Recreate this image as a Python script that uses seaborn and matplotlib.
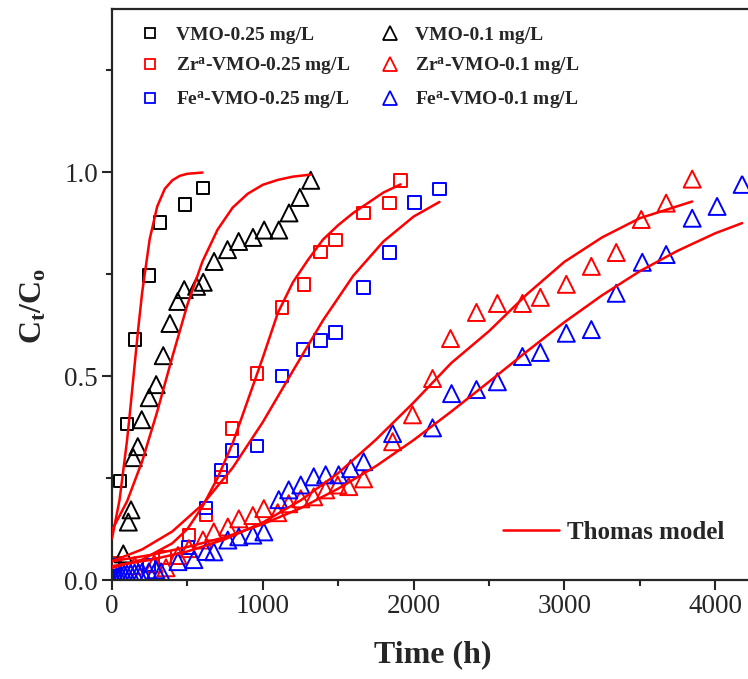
import matplotlib
matplotlib.use("Agg")
import matplotlib.pyplot as plt
from matplotlib.lines import Line2D
from matplotlib.ticker import MultipleLocator
import seaborn as sns

# measured breakthrough points (time in h, Ct/Co)
vmo25_t = [53, 99, 152, 245, 318, 483, 603]
vmo25_y = [0.243, 0.383, 0.59, 0.747, 0.877, 0.921, 0.961]

vmo10_t = [75, 108, 126, 141, 171, 197, 247, 293, 340, 384, 436, 479, 561, 605,
           677, 766, 840, 935, 1009, 1106, 1174, 1246, 1318]
vmo10_y = [0.064, 0.142, 0.172, 0.30, 0.327, 0.393, 0.447, 0.479, 0.55, 0.629, 0.683,
           0.712, 0.72, 0.73, 0.781, 0.81, 0.83, 0.84, 0.858, 0.858, 0.90, 0.938, 0.98]

zr25_t = [20, 350, 509, 623, 722, 795, 960, 1126, 1272, 1384, 1483, 1669, 1841, 1914]
zr25_y = [0.04, 0.055, 0.11, 0.16, 0.253, 0.371, 0.506, 0.668, 0.725, 0.804, 0.833,
          0.90, 0.924, 0.98]

fe25_t = [8, 245, 503, 623, 722, 795, 960, 1126, 1265, 1384, 1483, 1669, 1841, 2007, 2172]
fe25_y = [0.036, 0.037, 0.08, 0.177, 0.27, 0.317, 0.329, 0.50, 0.565, 0.587, 0.607,
          0.717, 0.803, 0.926, 0.958]

zr10_t = [150, 280, 358, 437, 510, 603, 675, 768, 841, 934, 1007, 1099, 1172, 1252,
          1338, 1417, 1497, 1570, 1669, 1861, 1993, 2126, 2245, 2417, 2556, 2722, 2841,
          3013, 3179, 3344, 3510, 3675, 3848]
zr10_y = [0.035, 0.04, 0.03, 0.06, 0.077, 0.098, 0.118, 0.13, 0.15, 0.158, 0.175, 0.165,
          0.187, 0.199, 0.204, 0.221, 0.233, 0.229, 0.248, 0.339, 0.405, 0.494, 0.592,
          0.656, 0.678, 0.678, 0.693, 0.725, 0.769, 0.803, 0.884, 0.924, 0.983]

fe10_t = [0, 15, 30, 45, 60, 80, 100, 125, 150, 175, 200, 245, 290, 325,
          437, 543, 623, 675, 768, 841, 934, 1007, 1106, 1172, 1252, 1338, 1417, 1503,
          1583, 1669, 1861, 2126, 2252, 2417, 2556, 2722, 2841, 3013, 3179, 3344, 3517,
          3675, 3848, 4013, 4179]
fe10_y = [0.0, 0.005, 0.008, 0.01, 0.012, 0.014, 0.015, 0.016, 0.017, 0.018, 0.02, 0.02,
          0.025, 0.02, 0.045, 0.05, 0.07, 0.069, 0.098, 0.106, 0.11, 0.118, 0.197, 0.221,
          0.233, 0.253, 0.258, 0.258, 0.273, 0.29, 0.359, 0.373, 0.457, 0.467, 0.486,
          0.548, 0.558, 0.605, 0.614, 0.703, 0.779, 0.798, 0.887, 0.916, 0.97]

# Thomas model curves
th_vmo25_t = [0, 50, 100, 125, 150, 175, 200, 250, 300, 350, 400, 450, 500, 600]
th_vmo25_y = [0.102, 0.196, 0.343, 0.433, 0.527, 0.620, 0.705, 0.836, 0.916, 0.959,
              0.980, 0.991, 0.996, 0.999]

th_vmo10_t = [0, 100, 200, 300, 400, 500, 600, 700, 800, 900, 1000, 1100, 1200, 1318]
th_vmo10_y = [0.122, 0.193, 0.291, 0.413, 0.547, 0.675, 0.781, 0.859, 0.913, 0.947,
              0.969, 0.981, 0.989, 0.994]

th_zr25_t = [0, 200, 400, 500, 600, 700, 800, 900, 1000, 1100, 1200, 1300, 1400, 1500,
             1600, 1700, 1800, 1914]
th_zr25_y = [0.03, 0.05, 0.09, 0.125, 0.18, 0.25, 0.335, 0.44, 0.545, 0.655, 0.73, 0.785,
             0.835, 0.87, 0.90, 0.925, 0.95, 0.97]

th_fe25_t = [0, 200, 400, 600, 800, 1000, 1200, 1400, 1600, 1800, 2000, 2172]
th_fe25_y = [0.046, 0.075, 0.119, 0.185, 0.275, 0.387, 0.513, 0.637, 0.746, 0.830,
             0.891, 0.927]

th_zr10_t = [0, 250, 500, 750, 1000, 1250, 1500, 1750, 2000, 2250, 2500, 2750, 3000,
             3250, 3500, 3848]
th_zr10_y = [0.034, 0.049, 0.070, 0.10, 0.141, 0.195, 0.262, 0.344, 0.435, 0.532, 0.61,
             0.70, 0.78, 0.84, 0.887, 0.928]

th_fe10_t = [0, 250, 500, 750, 1000, 1250, 1500, 1750, 2000, 2250, 2500, 2750, 3000,
             3250, 3500, 3750, 4000, 4179]
th_fe10_y = [0.046, 0.061, 0.081, 0.105, 0.137, 0.176, 0.224, 0.279, 0.343, 0.413, 0.486,
             0.56, 0.632, 0.698, 0.757, 0.807, 0.85, 0.875]

sns.set_style("ticks")
plt.rcParams["font.family"] = ["Liberation Serif", "DejaVu Serif"]
plt.rcParams["mathtext.fontset"] = "custom"
plt.rcParams["mathtext.rm"] = "Liberation Serif:bold"
plt.rcParams["mathtext.bf"] = "Liberation Serif:bold"
plt.rcParams["mathtext.it"] = "Liberation Serif:bold"

fig = plt.figure(figsize=(7.48, 6.79), dpi=100)
ax = fig.add_axes([112 / 748, 1 - 580 / 679, 1 - 112 / 748, 571 / 679])

for t, y in [(th_vmo25_t, th_vmo25_y), (th_vmo10_t, th_vmo10_y), (th_zr25_t, th_zr25_y),
             (th_fe25_t, th_fe25_y), (th_zr10_t, th_zr10_y), (th_fe10_t, th_fe10_y)]:
    sns.lineplot(x=t, y=y, ax=ax, color="red", lw=1.8, sort=False, estimator=None, zorder=3)

sq, tri = 80, 150
series = [
    (vmo25_t, vmo25_y, "s", sq, "black"),
    (zr25_t, zr25_y, "s", sq, "red"),
    (fe25_t, fe25_y, "s", sq, "blue"),
    (vmo10_t, vmo10_y, "^", tri, "black"),
    (zr10_t, zr10_y, "^", tri, "red"),
    (fe10_t, fe10_y, "^", tri, "blue"),
]
for t, y, m, s, c in series:
    sns.scatterplot(x=t, y=y, ax=ax, marker=m, s=s, facecolor="none", edgecolor=c,
                    color=c, linewidth=1.4, zorder=2)

ax.set_xlim(0, 4218)
ax.set_ylim(0, 1.4)
ax.xaxis.set_major_locator(MultipleLocator(1000))
ax.xaxis.set_minor_locator(MultipleLocator(500))
ax.yaxis.set_major_locator(MultipleLocator(0.5))
ax.yaxis.set_minor_locator(MultipleLocator(0.25))
ax.yaxis.set_major_formatter(matplotlib.ticker.FormatStrFormatter("%.1f"))
ax.tick_params(which="major", direction="out", length=7, width=1.5, labelsize=19.5, pad=3)
ax.tick_params(which="minor", direction="out", length=4, width=1.5)
for side in ["left", "bottom", "top"]:
    ax.spines[side].set_linewidth(1.6)
ax.spines["right"].set_visible(False)

ax.set_xlabel("Time (h)", fontsize=23, fontweight="bold")
ax.xaxis.set_label_coords(0.505, -0.105)
ax.set_ylabel(r"C$_\mathbf{t}$/C$_\mathbf{o}$", fontsize=23, fontweight="bold")
ax.yaxis.set_label_coords(-0.10, 0.48)

labels = ["VMO-0.25 mg/L", r"Zr$^\mathbf{a}$-VMO-0.25 mg/L", r"Fe$^\mathbf{a}$-VMO-0.25 mg/L",
          "VMO-0.1 mg/L", r"Zr$^\mathbf{a}$-VMO-0.1 mg/L", r"Fe$^\mathbf{a}$-VMO-0.1 mg/L"]
handles = [Line2D([], [], ls="none", marker=m, markersize=(7.5 if m == "s" else 10.5),
                  markerfacecolor="none", markeredgecolor=c, markeredgewidth=1.3)
           for _, _, m, _, c in series]
leg = ax.legend(handles, labels, ncol=2, loc="upper left", bbox_to_anchor=(0.045, 0.97),
                frameon=False, prop={"weight": "bold", "size": 14}, handlelength=1.0,
                handletextpad=0.8, columnspacing=1.55, labelspacing=0.62, borderpad=0,
                borderaxespad=0)
ax.add_artist(leg)

th_handle = [Line2D([], [], color="red", lw=1.8)]
ax.legend(th_handle, ["Thomas model"], loc="center left", bbox_to_anchor=(0.615, 0.083),
          frameon=False, prop={"weight": "bold", "size": 18}, handlelength=2.25,
          handletextpad=0.3, borderpad=0, borderaxespad=0)

fig.savefig("out.png", dpi=100)
